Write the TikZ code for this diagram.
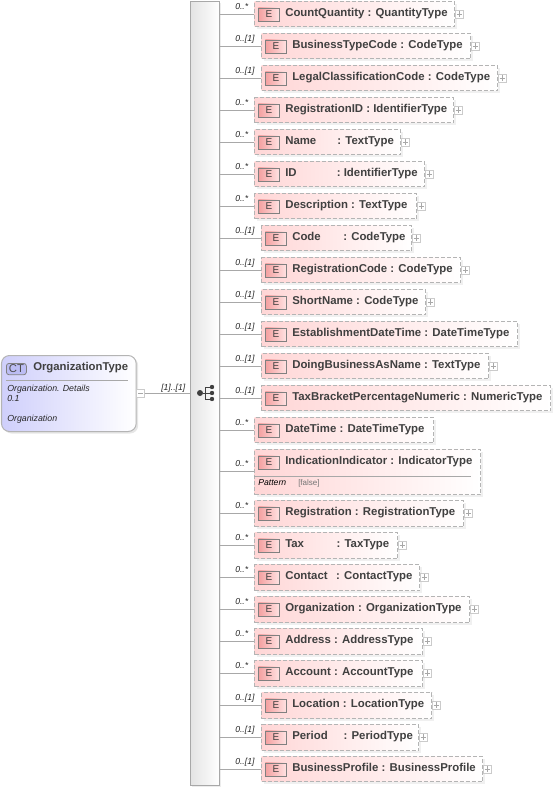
\documentclass[tikz,border=0pt]{standalone}
\usepackage{fontspec}
\setmainfont{Liberation Sans}
\usetikzlibrary{positioning, calc, shadows, shapes.geometric}
\definecolor{elpink}{HTML}{FFD6D6}
\definecolor{elred}{HTML}{F4A0A0}
\definecolor{bordergray}{HTML}{B4B4B4}
\definecolor{ctblue}{HTML}{CFCFFB}
\definecolor{ctbadgeblue}{HTML}{BCBDF4}
\definecolor{linegray}{HTML}{A8A8A8}
\definecolor{bargray}{HTML}{D8D8D8}
\begin{document}
\begin{tikzpicture}[
    x=0.75pt, y=-0.75pt, node distance=4pt,
    elbox/.style={draw=bordergray, dash pattern=on 3pt off 1.5pt, line width=0.75pt, left color=elpink, right color=white,
        anchor=north west, inner sep=0pt,
        drop shadow={opacity=0.12, shadow xshift=1.5pt, shadow yshift=-1.5pt}},
    ebadge/.style={draw=gray, line width=0.6pt, left color=elred, right color=elpink!70, minimum width=15.75pt,
        minimum height=9.75pt, inner sep=0pt, font=\fontsize{7.5}{8}\selectfont, text=black!75},
    ellabel/.style={font=\fontsize{8.55}{10}\selectfont\bfseries, text=black!75, inner sep=0pt, anchor=base west},
    multlabel/.style={font=\fontsize{6.5}{8}\selectfont\itshape, text=black!85, inner sep=0pt, anchor=base west},
    plusbox/.style={draw=linegray!60, fill=white, line width=0.5pt, minimum size=6pt, inner sep=0pt},
    seqdot/.style={circle, fill=black!75, minimum size=3.3pt, inner sep=0pt},
    link/.style={draw=linegray, line width=0.6pt}
  ]
  \path[use as bounding box] (0,0) rectangle (554,789);

  % sequence bar
  \node[draw=linegray, line width=0.6pt, left color=bargray!70, right color=white, minimum width=21.75pt, minimum height=588pt,
      inner sep=0pt, anchor=north west, drop shadow={opacity=0.15, shadow xshift=1.5pt, shadow yshift=-1.5pt}] (seqbar) at (190,1) {};

  % complex type
  \node[draw=bordergray, line width=0.75pt, rounded corners=6pt, left color=ctblue, right color=white, minimum width=101pt,
      minimum height=57pt, inner sep=0pt, anchor=north west,
      drop shadow={opacity=0.2, shadow xshift=1.5pt, shadow yshift=-1.5pt}] (ctbox) at (1,355) {};
  \node[draw=gray, line width=0.6pt, rounded corners=2pt, fill=ctbadgeblue, minimum width=15pt, minimum height=8.5pt, inner sep=0pt,
      font=\fontsize{8.5}{8}\selectfont, text=black!70, anchor=north west] (ctbadge) at (6,363) {CT};
  \node[font=\fontsize{8.5}{10}\selectfont\bfseries, text=black!75, inner sep=0pt, anchor=base west] (ctname) at (33,370) {OrganizationType};
  \coordinate (ruleleft) at (6,380);
  \coordinate (ruleright) at (128,380);
  \draw[link] (ruleleft) -- (ruleright);
  \node[multlabel, font=\fontsize{6.6}{8}\selectfont\itshape] (ctdoca) at (7,391) {Organization. Details};
  \node[multlabel, font=\fontsize{6.6}{8}\selectfont\itshape] (ctdocb) at (7,401) {0.1};
  \node[multlabel, font=\fontsize{6.6}{8}\selectfont\itshape] (ctdocc) at (7,421) {Organization};

  \node[plusbox] (ctminus) at (140.5,393) {};
  \draw[linegray, line width=0.4pt] ($(ctminus.west)+(2,0)$) -- ($(ctminus.east)+(-2,0)$);
  \draw[link] (ctminus.east) -- (seqbar.west |- ctminus.east);
  \node[multlabel] (ctmult) at (161,390) {[1]..[1]};

  % sequence symbol
  \node[seqdot, minimum size=4.5pt] (seqroot) at (200,393) {};
  \node[seqdot] (seqa) at (212,387) {};
  \node[seqdot] (seqb) at (212,393) {};
  \node[seqdot] (seqc) at (212,399) {};
  \coordinate (seqfork) at (205.5,393);
  \draw[black!75, line width=0.7pt] (seqroot) -- (seqb);
  \draw[black!75, line width=0.7pt] (seqa) -| (seqfork) |- (seqc);

  % elements: name/left/right/top/bottom/link y/mult/text/has plus
  \foreach \nm/\lft/\rgt/\tp/\btm/\ly/\mult/\txt/\hasplus in {
      a/254/454/1/26/14/0..*/CountQuantity : QuantityType/1,
      b/261/470/33/58/46/0..[1]/BusinessTypeCode : CodeType/1,
      c/261/497/65/90/78/0..[1]/LegalClassificationCode : CodeType/1,
      d/254/453/97/122/110/0..*/RegistrationID : IdentifierType/1,
      e/254/400/129/154/142/0..*/Name\hspace{13.5pt} : TextType/1,
      f/254/424/161/186/174/0..*/ID\hspace{27.75pt} : IdentifierType/1,
      g/254/416/193/218/206/0..*/Description : TextType/1,
      h/261/411/225/250/238/0..[1]/Code\hspace{14.5pt} : CodeType/1,
      i/261/460/257/282/270/0..[1]/RegistrationCode : CodeType/1,
      j/261/425/289/314/302/0..[1]/ShortName : CodeType/1,
      k/261/517/321/346/334/0..[1]/EstablishmentDateTime : DateTimeType/0,
      l/261/488/353/378/366/0..[1]/DoingBusinessAsName : TextType/1,
      m/261/550/385/410/398/0..[1]/TaxBracketPercentageNumeric : NumericType/0,
      n/254/433/417/442/430/0..*/DateTime : DateTimeType/0,
      o/254/480/449/494/471/0..*/IndicationIndicator : IndicatorType/0,
      p/254/463/500/526/513/0..*/Registration : RegistrationType/1,
      q/254/397/532/558/545/0..*/Tax\hspace{22pt} : TaxType/1,
      r/254/419/564/590/577/0..*/Contact\hspace{4pt} : ContactType/1,
      s/254/469/596/622/609/0..*/Organization : OrganizationType/1,
      t/254/422/628/654/641/0..*/Address : AddressType/1,
      u/254/422/660/686/673/0..*/Account : AccountType/1,
      v/261/431/692/718/705/0..[1]/Location : LocationType/1,
      w/261/418/724/750/737/0..[1]/Period\hspace{9.5pt} : PeriodType/1,
      x/261/482/756/781/769/0..[1]/BusinessProfile : BusinessProfile/1} {
    \pgfmathsetmacro{\boxw}{(\rgt-\lft)*0.75}
    \pgfmathsetmacro{\boxh}{(\btm-\tp)*0.75}
    \node[elbox, minimum width=\boxw pt, minimum height=\boxh pt] (el\nm) at (\lft,\tp) {};
    \node[ebadge, anchor=north west] (eb\nm) at (\lft+4,\tp+6.5) {E};
    \node[ellabel] (et\nm) at (\lft+31,\tp+15) {\txt};
    \draw[link] (seqbar.east |- 0,\ly) coordinate (st\nm) -- (\lft,\ly);
    \node[multlabel] (mt\nm) at (235,\ly-5) {\mult};
    \ifnum\hasplus=1
      \node[plusbox] (pl\nm) at (\rgt+5.5,\tp+13) {};
      \draw[linegray, line width=0.4pt] ($(pl\nm.west)+(1.5,0)$) -- ($(pl\nm.east)+(-1.5,0)$);
      \draw[linegray, line width=0.4pt] ($(pl\nm.north)+(0,1.5)$) -- ($(pl\nm.south)+(0,-1.5)$);
    \fi
  }
  \draw[link] (elo.west |- 0,476) -- (471,476);
  \node[multlabel, text=black] (ptn) at (258,485) {Pattern};
  \node[multlabel, font=\fontsize{6}{8}\selectfont, text=black!55] (ptv) at (298,485) {[false]};
\end{tikzpicture}
\end{document}
